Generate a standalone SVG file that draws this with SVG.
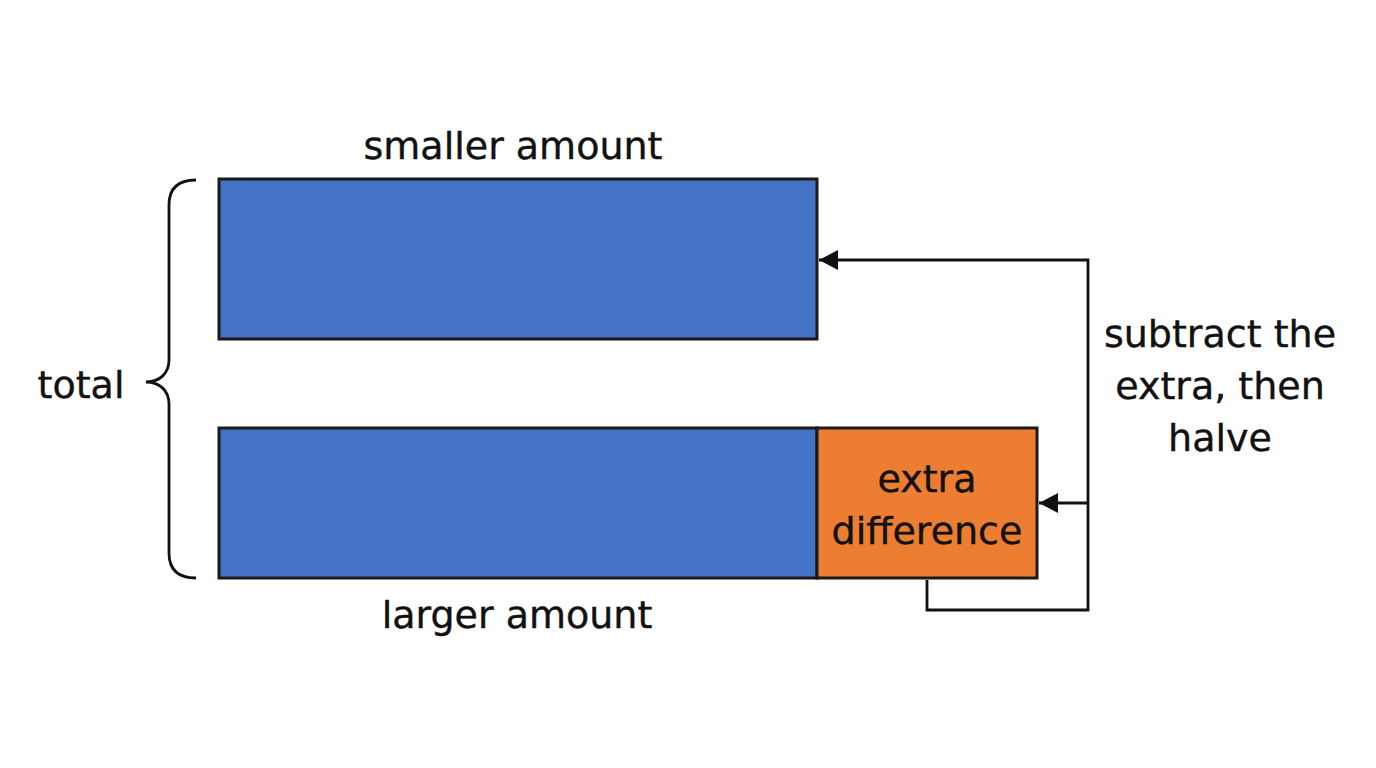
<svg xmlns="http://www.w3.org/2000/svg" width="1376" height="768" viewBox="0 0 1376 768">
  <defs>
    <marker id="arr" markerWidth="22" markerHeight="22" refX="19" refY="10" orient="auto" markerUnits="userSpaceOnUse">
      <path d="M0,0 L19,10 L0,20 Z" fill="#111"/>
    </marker>
    <style>
      .lbl { font-family: "DejaVu Sans", "Liberation Sans", sans-serif; font-size: 38px; fill: #111; stroke: #111; stroke-width: 0.4; text-anchor: middle; }
      .bar { stroke: #1a1a1a; stroke-width: 3; }
      .conn { fill: none; stroke: #111; stroke-width: 2.8; }
    </style>
  </defs>
  <rect width="1376" height="768" fill="#ffffff"/>

  <g id="smaller">
    <rect class="bar" x="219" y="179" width="598" height="160" fill="#4472C4"/>
    <text class="lbl" x="513" y="159">smaller amount</text>
  </g>

  <g id="larger">
    <rect class="bar" x="219" y="428" width="598" height="150" fill="#4472C4"/>
    <text class="lbl" x="517" y="628">larger amount</text>
  </g>

  <g id="extra">
    <rect class="bar" x="817" y="428" width="220" height="150" fill="#ED7D31"/>
    <text class="lbl" x="927" y="492">extra</text>
    <text class="lbl" x="927" y="544">difference</text>
  </g>

  <g id="total">
    <path class="conn" d="M196,180 C178,180 169,188 169,205 L169,360 C169,373 160,382 146,382 C160,382 169,391 169,404 L169,553 C169,570 178,578 196,578"/>
    <text class="lbl" x="81" y="398">total</text>
  </g>

  <g id="note">
    <text class="lbl" x="1220" y="347">subtract the</text>
    <text class="lbl" x="1220" y="399">extra, then</text>
    <text class="lbl" x="1220" y="451">halve</text>
  </g>

  <g id="connectors">
    <polyline class="conn" points="927,580 927,610 1088,610 1088,260 819,260" marker-end="url(#arr)"/>
    <line class="conn" x1="1088" y1="503" x2="1039" y2="503" marker-end="url(#arr)"/>
  </g>
</svg>
